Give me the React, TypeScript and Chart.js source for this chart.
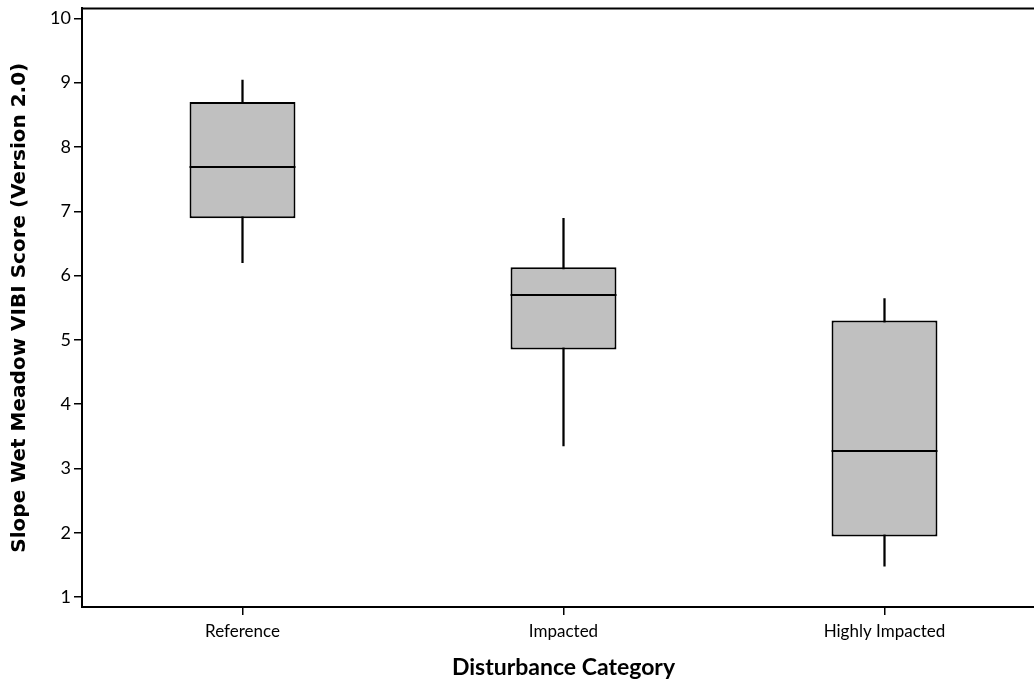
import React, { useEffect, useRef } from "react";
import { Chart, registerables } from "chart.js";

Chart.register(...registerables);

const categories = ["Reference", "Impacted", "Highly Impacted"];
const whiskerLow = [6.2, 3.35, 1.48];
const q1 = [6.89, 4.85, 1.94];
const median = [7.69, 5.7, 3.27];
const q3 = [8.7, 6.13, 5.3];
const whiskerHigh = [9.04, 6.89, 5.64];
const yTicks = [1, 2, 3, 4, 5, 6, 7, 8, 9, 10];

const FONT = "Lato, 'Open Sans', sans-serif";
const YTITLE_FONT = "'DejaVu Sans', Verdana, sans-serif";

const boxExtras = {
  id: "boxExtras",
  afterDatasetsDraw(chart: any) {
    const ctx = chart.ctx;
    const meta = chart.getDatasetMeta(1);
    const y = chart.scales.y;
    ctx.save();
    ctx.strokeStyle = "#000";
    ctx.lineWidth = 2;
    meta.data.forEach((bar: any, i: number) => {
      const py = Math.round(y.getPixelForValue(median[i]));
      ctx.beginPath();
      ctx.moveTo(bar.x - bar.width / 2, py);
      ctx.lineTo(bar.x + bar.width / 2, py);
      ctx.stroke();
    });
    const a = chart.chartArea;
    ctx.beginPath();
    ctx.moveTo(a.left, a.top);
    ctx.lineTo(a.right, a.top);
    ctx.stroke();
    ctx.restore();
  },
};

export default function App() {
  const ref = useRef<HTMLCanvasElement | null>(null);
  useEffect(() => {
    if (!ref.current) return;
    const chart = new Chart(ref.current, {
      type: "bar",
      data: {
        labels: categories,
        datasets: [
          {
            data: categories.map((_, i) => [whiskerLow[i], whiskerHigh[i]]) as any,
            backgroundColor: "#000",
            barThickness: 1.6,
            grouped: false,
            order: 2,
          } as any,
          {
            data: categories.map((_, i) => [q1[i], q3[i]]) as any,
            backgroundColor: "#c0c0c0",
            borderColor: "#000",
            borderWidth: 2,
            borderSkipped: false,
            barPercentage: 0.33,
            categoryPercentage: 1,
            grouped: false,
            order: 1,
          } as any,
        ],
      },
      options: {
        animation: false,
        responsive: true,
        maintainAspectRatio: false,
        layout: { padding: { top: 6, right: 1, left: 0, bottom: 0 } },
        plugins: { legend: { display: false }, tooltip: { enabled: false } },
        scales: {
          x: {
            type: "category",
            offset: true,
            afterFit: (s: any) => {
              s.height = 76;
            },
            grid: {
              display: true,
              drawOnChartArea: false,
              offset: false,
              tickLength: 8,
              color: "#000",
              lineWidth: 1.5,
            },
            border: { display: true, color: "#000", width: 2 },
            ticks: {
              color: "#000",
              padding: 6,
              font: { family: FONT, size: 17 },
            },
            title: {
              display: true,
              text: "Disturbance Category",
              color: "#000",
              font: { family: FONT, size: 23, weight: "bold" },
              padding: { top: 4, bottom: 2 },
            },
          },
          y: {
            type: "linear",
            min: 0.845,
            max: 10.155,
            afterBuildTicks: (s: any) => {
              s.ticks = yTicks.map((v) => ({ value: v }));
            },
            afterFit: (s: any) => {
              s.width = 82;
            },
            grid: {
              display: true,
              drawOnChartArea: false,
              tickLength: 8,
              color: "#000",
              lineWidth: 1.5,
            },
            border: { display: true, color: "#000", width: 2 },
            ticks: {
              color: "#000",
              padding: 3,
              font: { family: FONT, size: 18, lineHeight: 0.6 },
            },
            title: {
              display: true,
              text: "Slope Wet Meadow VIBI Score (Version 2.0)",
              color: "#000",
              font: { family: YTITLE_FONT, size: 20, weight: "bold" },
              padding: { top: 8, bottom: 4 },
            },
          },
        },
      },
      plugins: [boxExtras],
    });
    return () => chart.destroy();
  }, []);

  return (
    <div
      style={{
        position: "fixed",
        left: 0,
        top: 0,
        width: 1034,
        height: 683,
        overflow: "hidden",
        background: "#fff",
      }}
    >
      <div style={{ position: "relative", width: 1046, height: 683 }}>
        <canvas ref={ref} />
      </div>
    </div>
  );
}
